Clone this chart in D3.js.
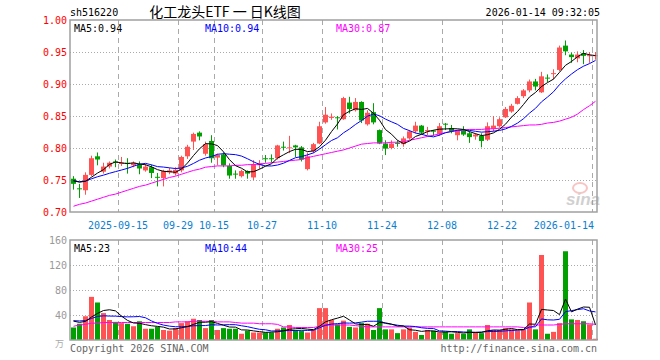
<!DOCTYPE html>
<html>
<head>
<meta charset="utf-8">
<script src="https://cdn.jsdelivr.net/npm/d3@7"></script>
<style>
  body { margin: 0; background: #fff; }
  text { font-family: "DejaVu Sans Mono", monospace; font-size: 10px; }
</style>
</head>
<body>
<div id="kline"></div>
<script>
// trading days shown in the chart
const dates = [
  "2025-09-03","2025-09-04","2025-09-05","2025-09-08","2025-09-09","2025-09-10","2025-09-11","2025-09-12",
  "2025-09-15","2025-09-16","2025-09-17","2025-09-18","2025-09-19","2025-09-22","2025-09-23","2025-09-24",
  "2025-09-25","2025-09-26","2025-09-29","2025-09-30","2025-10-09","2025-10-10","2025-10-13","2025-10-14",
  "2025-10-15","2025-10-16","2025-10-17","2025-10-20","2025-10-21","2025-10-22","2025-10-23","2025-10-24",
  "2025-10-27","2025-10-28","2025-10-29","2025-10-30","2025-10-31","2025-11-03","2025-11-04","2025-11-05",
  "2025-11-06","2025-11-07","2025-11-10","2025-11-11","2025-11-12","2025-11-13","2025-11-14","2025-11-17",
  "2025-11-18","2025-11-19","2025-11-20","2025-11-21","2025-11-24","2025-11-25","2025-11-26","2025-11-27",
  "2025-11-28","2025-12-01","2025-12-02","2025-12-03","2025-12-04","2025-12-05","2025-12-08","2025-12-09",
  "2025-12-10","2025-12-11","2025-12-12","2025-12-15","2025-12-16","2025-12-17","2025-12-18","2025-12-19",
  "2025-12-22","2025-12-23","2025-12-24","2025-12-25","2025-12-26","2025-12-29","2025-12-30","2025-12-31",
  "2026-01-05","2026-01-06","2026-01-07","2026-01-08","2026-01-09","2026-01-12","2026-01-13","2026-01-14"
];

const opens = [
  .752,.737,.734,.758,.787,.763,.771,.779,.775,.777, .773,.774,.765,.770,.755,.753,.762,.760,.765,.787,
  .810,.824,.791,.811,.785,.790,.772,.760,.756,.764, .754,.773,.784,.784,.784,.802,.800,.804,.801,.767,
  .795,.807,.840,.847,.848,.845,.871,.859,.872,.837, .856,.828,.807,.800,.808,.806,.815,.826,.835,.826,
  .827,.822,.838,.831,.820,.827,.823,.818,.819,.813, .830,.834,.848,.857,.869,.881,.890,.904,.887,.910,
  .916,.922,.960,.946,.940,.948,.944,.944
];
const highs = [
  .756,.744,.762,.788,.793,.777,.779,.782,.786,.784, .779,.779,.775,.774,.761,.766,.769,.770,.788,.805,
  .824,.826,.810,.820,.791,.793,.776,.765,.766,.765, .781,.781,.789,.790,.805,.810,.819,.805,.803,.793,
  .808,.841,.864,.854,.850,.880,.880,.878,.873,.859, .870,.829,.812,.812,.812,.818,.828,.841,.836,.833,
  .828,.839,.839,.836,.828,.834,.826,.823,.823,.840, .850,.848,.864,.869,.881,.892,.907,.908,.919,.915,
  .923,.960,.968,.949,.951,.953,.950,.950
];
const lows = [
  .735,.722,.727,.756,.773,.760,.768,.770,.772,.760, .770,.759,.763,.753,.740,.740,.759,.757,.762,.783,
  .797,.812,.788,.777,.773,.770,.752,.752,.754,.752, .750,.767,.777,.777,.782,.796,.792,.786,.779,.765,
  .792,.806,.838,.844,.829,.844,.854,.857,.839,.835, .837,.806,.789,.798,.802,.802,.813,.823,.822,.820,
  .819,.819,.828,.823,.812,.819,.808,.813,.801,.811, .826,.832,.847,.855,.868,.878,.887,.890,.886,.903,
  .907,.920,.945,.933,.934,.931,.933,.938
];
const closes = [
  .744,.736,.758,.784,.782,.771,.777,.777,.777,.776, .777,.768,.771,.761,.754,.764,.765,.766,.786,.802,
  .822,.818,.806,.784,.789,.773,.757,.759,.764,.760, .775,.776,.783,.783,.804,.801,.801,.801,.782,.787,
  .806,.834,.852,.849,.847,.878,.861,.872,.843,.855, .840,.807,.799,.807,.807,.815,.826,.835,.824,.828,
  .826,.834,.837,.826,.827,.821,.817,.821,.811,.834, .835,.845,.861,.866,.878,.890,.904,.896,.912,.909,
  .917,.957,.951,.942,.946,.944,.945,.945
];
// volume, 万
const volumes = [
  20,26,38,69,60,43,32,29,27,26, 22,30,18,18,21,16,15,19,27,30,
  34,32,19,32,16,19,18,18,10,15, 12,12,12,12,18,20,24,16,15,12,
  16,51,51,32,25,31,21,20,27,26, 16,51,17,17,11,17,20,13,8,16,
  15,12,13,10,11,10,17,12,11,24, 16,16,19,17,15,17,60,17,136,10,
  13,27,142,33,32,30,25,2
];

// estimated closes / volumes of the 9 sessions before the window (moving averages start from them)
const priorCloses = [.747,.749,.748,.750,.746,.748,.751,.752,.750];
const priorVolumes = [30,32,35,28,33,36,30,34,31];

// 30-day averages
const ma30Price = [
  .709,.712,.714,.717,.720,.723,.726,.728,.731,.734, .737,.740,.742,.745,.748,.751,.754,.756,.759,.762,
  .765,.767,.770,.771,.772,.772,.772,.773,.773,.774, .774,.775,.776,.777,.778,.779,.780,.781,.782,.785,
  .787,.789,.791,.793,.795,.797,.800,.803,.806,.807, .808,.808,.808,.809,.809,.810,.812,.814,.816,.818,
  .820,.822,.824,.826,.827,.828,.829,.829,.829,.830, .830,.831,.832,.833,.834,.835,.836,.836,.837,.839,
  .840,.842,.845,.848,.853,.860,.866,.873
];
const ma30Volume = [
  22,24,25,27,27,28,28,28,28,28, 28,28,28,28,28,28,28,29,29,29,
  30,30,30,30,29,29,29,28,27,27, 27,26,26,26,25,21,21,20,20,20,
  20,22,24,24,24,24,24,23,22,21, 21,21,21,21,21,21,21,21,21,21,
  21,21,21,21,21,21,21,21,21,21, 21,21,21,21,21,20,19,24,24,24,
  24,25,26,26,26,26,26,25
];

const tickIdx = [8, 18, 24, 32, 42, 52, 62, 72, 87];
const tickLabels = ["2025-09-15","09-29","10-15","10-27","11-10","11-24","12-08","12-22","2026-01-14"];
const priceTicks = [1.00, 0.95, 0.90, 0.85, 0.80, 0.75, 0.70];
const volTicks = [160, 120, 80, 40];

const W = 660, H = 360;
const left = 70, right = 597;
const pTop = 20, pBottom = 212;
const vTop = 240, vBottom = 340;
const RED = "#ff5353", GREEN = "#00a000";

const svg = d3.select("#kline")
  .append("svg")
    .attr("width", W)
    .attr("height", H);

const x = d3.scaleBand()
  .domain(d3.range(dates.length))
  .range([left, left + 6 * dates.length]);

const y = d3.scaleLinear().domain([0.70, 1.00]).range([pBottom, pTop]);
const yv = d3.scaleLinear().domain([0, 160]).range([vBottom, vTop]);

// moving average helper (uses earlier sessions for the first points)
function movingAvg(values, prior, n) {
  const all = prior.concat(values);
  return values.map((v, i) => d3.mean(all.slice(i + prior.length - n + 1, i + prior.length + 1)));
}
const ma5 = movingAvg(closes, priorCloses, 5);
const ma10 = movingAvg(closes, priorCloses, 10);
const vma5 = movingAvg(volumes, priorVolumes, 5);
const vma10 = movingAvg(volumes, priorVolumes, 10);

// header
svg.append("text").attr("x", 70).attr("y", 16).text("sh516220");
svg.append("text")
  .attr("x", 225).attr("y", 17)
  .attr("text-anchor", "middle")
  .style("font-family", "'Noto Sans CJK SC', sans-serif")
  .style("font-size", "14px")
  .text("化工龙头ETF 一 日K线图");
svg.append("text")
  .attr("x", 600).attr("y", 16)
  .attr("text-anchor", "end")
  .text("2026-01-14 09:32:05");

// grids
function panelGrid(top, bottom, hLines) {
  svg.append("g")
    .selectAll("line")
    .data(hLines)
    .join("line")
      .attr("x1", left).attr("x2", right)
      .attr("y1", d => d).attr("y2", d => d)
      .attr("stroke", "#aaa")
      .attr("stroke-dasharray", "1,2");
  svg.append("g")
    .selectAll("line")
    .data(tickIdx)
    .join("line")
      .attr("x1", d => x(d) + 0.5).attr("x2", d => x(d) + 0.5)
      .attr("y1", top).attr("y2", bottom)
      .attr("stroke", "#aaa")
      .attr("stroke-dasharray", "5,4");
}
panelGrid(pTop, pBottom, priceTicks.slice(1, -1).map(d => Math.round(y(d)) + 0.5));
panelGrid(vTop, vBottom, volTicks.slice(1).map(d => Math.round(yv(d)) + 0.5));

// y labels
svg.append("g")
  .selectAll("text")
  .data(priceTicks)
  .join("text")
    .attr("x", 67).attr("y", d => y(d) + 4)
    .attr("text-anchor", "end")
    .attr("fill", "#f00")
    .text(d => d.toFixed(2));
svg.append("g")
  .selectAll("text")
  .data(volTicks)
  .join("text")
    .attr("x", 67).attr("y", d => yv(d) + 4)
    .attr("text-anchor", "end")
    .attr("fill", "#999")
    .text(d => d);
svg.append("text")
  .attr("x", 64).attr("y", 347)
  .attr("text-anchor", "end")
  .attr("fill", "#aaa")
  .style("font-family", "'Noto Sans CJK SC', sans-serif")
  .style("font-size", "9px")
  .text("万");

// x labels
svg.append("g")
  .selectAll("text")
  .data(tickIdx)
  .join("text")
    .attr("x", (d, i) => i === tickIdx.length - 1 ? 594 : x(d))
    .attr("y", 229)
    .attr("text-anchor", (d, i) => i === tickIdx.length - 1 ? "end" : "middle")
    .attr("fill", "#0a7fd0")
    .text((d, i) => tickLabels[i]);

// watermark
const wm = svg.append("g").attr("opacity", 0.45);
wm.append("ellipse").attr("cx", 580).attr("cy", 188).attr("rx", 7).attr("ry", 5)
  .attr("fill", "none").attr("stroke", "#f08080").attr("stroke-width", 2);
wm.append("text").attr("x", 566).attr("y", 205)
  .style("font-family", "Arial, 'Liberation Sans', sans-serif")
  .style("font-size", "17px").style("font-style", "italic").style("font-weight", "bold")
  .attr("fill", "#999").text("sina");

// candles
const candle = svg.append("g")
  .selectAll("g")
  .data(dates.map((d, i) => i))
  .join("g")
    .attr("fill", i => closes[i] >= opens[i] ? RED : GREEN);
candle.append("rect")
  .attr("x", i => x(i) + 3)
  .attr("width", 1)
  .attr("y", i => y(highs[i]))
  .attr("height", i => y(lows[i]) - y(highs[i]));
candle.append("rect")
  .attr("x", i => x(i) + 1)
  .attr("width", 5)
  .attr("y", i => y(Math.max(opens[i], closes[i])))
  .attr("height", i => Math.max(1, Math.abs(y(opens[i]) - y(closes[i]))));

// volume bars
svg.append("g")
  .selectAll("rect")
  .data(volumes)
  .join("rect")
    .attr("x", (d, i) => x(i) + 1)
    .attr("width", 5)
    .attr("y", d => yv(d))
    .attr("height", d => vBottom - yv(d))
    .attr("fill", (d, i) => closes[i] >= opens[i] ? RED : GREEN);

// average lines
function maLine(values, scale, color) {
  svg.append("path")
    .datum(values)
    .attr("fill", "none")
    .attr("stroke", color)
    .attr("stroke-width", 1)
    .attr("d", d3.line().x((d, i) => x(i) + 3.5).y(d => scale(d)));
}
maLine(ma30Price, y, "#ff00ff");
maLine(ma10, y, "#0000ff");
maLine(ma5, y, "#000");
maLine(ma30Volume, yv, "#ff00ff");
maLine(vma10, yv, "#0000ff");
maLine(vma5, yv, "#000");

// frames
[[pTop, pBottom], [vTop, vBottom]].forEach(([t, b]) => {
  svg.append("rect")
    .attr("x", left).attr("y", t)
    .attr("width", right - left).attr("height", b - t)
    .attr("fill", "none")
    .attr("stroke", "#a0a0a0")
    .attr("stroke-width", 1.5);
});

// legends
const legends = [
  [32, "MA5:0.94", "MA10:0.94", "MA30:0.87"],
  [252, "MA5:23", "MA10:44", "MA30:25"]
];
legends.forEach(([ly, a, b, c]) => {
  svg.append("text").attr("x", 74).attr("y", ly).attr("fill", "#000").text(a);
  svg.append("text").attr("x", 205).attr("y", ly).attr("fill", "#00f").text(b);
  svg.append("text").attr("x", 336).attr("y", ly).attr("fill", "#f0f").text(c);
});

// footer
svg.append("text").attr("x", 70).attr("y", 352).attr("fill", "#666").text("Copyright 2026 SINA.COM");
svg.append("text").attr("x", 597).attr("y", 352).attr("text-anchor", "end").attr("fill", "#666")
  .text("http://finance.sina.com.cn");
</script>
</body>
</html>
